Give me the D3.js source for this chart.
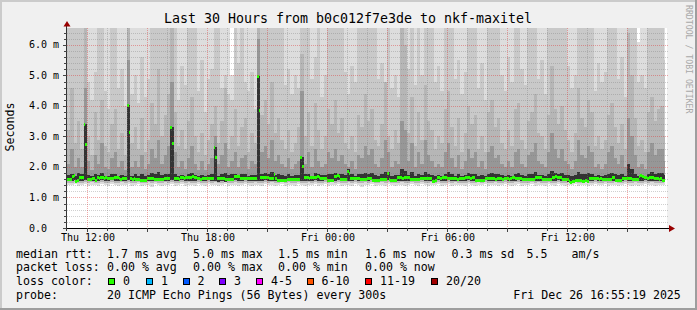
<!DOCTYPE html>
<html>
<head>
<meta charset="utf-8">
<script src="https://cdn.jsdelivr.net/npm/d3@7"></script>
<style>
body { margin: 0; background: #f0f0f0; }
svg { display: block; }
text { font-family: "DejaVu Sans Mono", monospace; fill: #000; }
</style>
</head>
<body>
<svg id="chart" width="697" height="310"></svg>
<script>
// time window (UTC), 5 minute steps for the median, 10 minute columns for the smoke
var startTime = Date.UTC(2025, 11, 25, 11, 0, 0)
var endTime = Date.UTC(2025, 11, 26, 17, 0, 0)
var dataEnd = Date.UTC(2025, 11, 26, 16, 55, 0)
var stepSec = 300
var colSec = 600

// median rtt per 5 min step (ms)
var median = [
 1.61,1.62,1.61,1.72,1.75,1.55,1.58,1.68,1.66,1.67,3.41,2.75,1.61,1.60,1.62,1.64,1.63,1.57,1.66,1.65,
 1.67,1.66,1.64,1.66,1.64,1.63,1.65,1.64,1.68,1.67,1.66,1.63,1.62,1.64,1.63,1.64,4.03,3.16,1.63,1.62,
 1.64,1.61,1.62,1.60,1.57,1.56,1.58,1.57,1.64,1.63,1.65,1.64,1.62,1.61,1.60,1.62,1.61,1.60,1.64,1.63,
 1.65,1.64,3.32,2.80,1.64,1.63,1.64,1.62,1.66,1.67,1.65,1.66,1.67,1.66,1.68,1.69,1.67,1.68,1.63,1.64,
 1.62,1.63,1.64,1.63,1.64,1.65,1.63,1.64,2.65,2.32,1.64,1.65,1.63,1.64,1.64,1.61,1.62,1.61,1.60,1.61,
 1.72,1.71,1.72,1.70,1.64,1.63,1.64,1.64,1.63,1.64,1.65,1.64,1.64,1.63,4.99,3.87,1.68,1.66,1.67,1.68,
 1.66,1.64,1.63,1.64,1.77,1.64,1.58,1.57,1.58,1.56,1.57,1.58,1.61,1.62,1.61,1.60,1.61,1.62,1.61,1.61,
 2.32,2.04,1.66,1.67,1.66,1.65,1.66,1.67,1.68,1.68,1.69,1.67,1.64,1.63,1.64,1.65,1.58,1.57,1.59,1.58,
 1.72,1.71,1.73,1.72,1.61,1.62,1.61,1.60,1.88,1.80,1.64,1.63,1.64,1.65,1.63,1.64,1.61,1.60,1.61,1.62,
 1.64,1.63,1.64,1.58,1.57,1.58,1.56,1.57,1.61,1.60,1.62,1.61,1.80,1.62,1.58,1.57,1.58,1.57,1.66,1.67,
 1.68,1.65,1.66,1.67,1.68,1.66,1.61,1.60,1.61,1.62,1.60,1.61,1.64,1.63,1.64,1.65,1.63,1.64,1.63,1.55,
 1.54,1.56,1.66,1.67,1.65,1.66,1.67,1.66,1.64,1.63,1.65,1.64,1.63,1.64,1.62,1.64,1.63,1.65,1.64,1.66,
 1.67,1.66,1.65,1.66,1.67,1.58,1.57,1.58,1.56,1.57,1.58,1.64,1.63,1.64,1.65,1.63,1.64,1.62,1.63,1.63,
 1.64,1.62,1.63,1.64,1.63,1.62,1.64,1.66,1.67,1.65,1.64,1.63,1.64,1.61,1.60,1.61,1.62,1.61,1.60,1.61,
 1.62,1.66,1.67,1.66,1.67,1.61,1.62,1.60,1.61,1.62,1.61,1.68,1.67,1.69,1.68,1.67,1.68,1.61,1.62,1.60,
 1.61,1.53,1.52,1.54,1.53,1.58,1.57,1.59,1.58,1.55,1.54,1.56,1.55,1.64,1.63,1.64,1.65,1.63,1.64,1.62,
 1.64,1.61,1.60,1.62,1.61,1.60,1.62,1.68,1.67,1.57,1.58,1.57,1.58,1.64,1.63,1.64,1.65,1.63,1.64,1.61,
 1.60,1.62,1.61,1.72,1.73,1.71,1.66,1.67,1.65,1.66,1.67,1.66,1.65,1.63,1.64,1.62,1.63,1.58,1.57,null
]

// smoke: upper edges of the bands per 10 min column (ms), outermost first
var hi0 = [
 6.6,6.6,6.6,6.6,6.6,6.6,6.6,6.6,6.6,6.6,6.6,6.6,6.6,6.6,6.6,6.6,6.6,6.6,6.6,6.6,
 6.6,6.6,6.6,6.6,6.6,6.6,6.6,6.6,6.6,6.6,6.6,6.6,6.6,6.6,6.6,6.6,6.6,6.6,6.6,6.6,
 6.6,6.6,6.6,6.6,6.6,6.6,6.6,6.6,6.6,5.0,6.6,6.6,6.6,6.6,6.6,6.6,6.6,6.6,6.6,6.6,
 6.6,6.6,6.6,6.6,6.6,6.6,6.6,6.6,6.6,6.6,6.6,6.6,6.6,6.6,6.6,6.6,6.6,6.6,6.6,6.6,
 6.6,6.6,6.6,6.6,6.6,6.6,6.6,6.6,6.6,6.6,6.6,6.6,6.6,6.6,6.6,6.6,6.6,6.6,6.6,6.6,
 6.6,6.6,6.6,6.6,6.6,6.6,6.6,6.6,6.6,6.6,6.6,6.6,6.6,6.6,6.6,6.6,6.6,6.6,6.6,6.6,
 6.6,6.6,6.6,6.6,6.6,6.6,6.6,6.6,6.6,6.6,6.6,6.6,6.6,6.6,6.6,6.6,6.6,6.6,6.6,6.6,
 6.6,6.6,6.6,6.6,6.6,6.6,6.6,6.6,6.6,6.6,6.6,6.6,6.6,6.6,6.6,6.6,6.6,6.6,6.6,6.6,
 6.6,6.6,6.6,6.6,6.6,6.6,6.6,6.6,6.6,6.6,6.6,6.1,6.6,6.6,6.6,6.6,6.6,6.6,6.6,6.6
]
var hi1 = [
 6.6,6.6,6.6,6.6,6.6,6.6,4.8,4.2,5.1,6.6,6.6,4.5,3.9,6.6,6.6,4.6,5.2,4.0,6.6,4.4,
 5.0,4.1,5.6,4.3,4.9,6.6,6.6,6.6,6.6,6.6,6.6,6.6,6.6,4.2,5.3,4.7,6.6,6.6,6.6,4.5,
 5.5,3.8,4.9,5.2,6.6,6.6,4.6,5.0,4.4,4.2,6.6,5.4,6.6,4.8,4.5,5.1,3.9,6.6,6.6,6.6,
 6.6,6.6,6.6,6.6,6.6,4.7,5.2,4.4,5.0,4.6,6.6,6.6,6.6,4.9,5.6,6.6,4.3,5.0,6.6,6.6,
 6.6,6.6,6.6,5.1,4.4,5.3,4.8,6.6,6.6,6.6,6.6,6.6,6.6,4.9,5.4,4.5,6.6,4.6,5.0,4.3,
 6.6,6.6,5.2,6.6,4.7,6.6,5.0,6.6,6.6,6.6,4.8,5.3,4.5,6.6,6.6,6.6,4.9,5.5,4.4,5.1,
 6.6,6.6,6.6,4.6,5.4,4.2,6.6,6.6,6.6,6.6,5.0,4.5,5.6,4.8,6.6,6.6,5.2,4.7,6.6,6.6,
 6.6,4.9,5.5,4.4,6.6,6.6,6.6,6.6,6.6,6.6,5.3,4.6,5.0,6.6,6.6,6.6,6.6,6.6,4.5,5.4,
 4.8,5.1,6.6,6.6,6.6,4.9,5.6,4.3,6.6,6.6,6.6,4.8,5.0,4.6,6.6,6.6,6.6,6.6,6.6,5.5
]
var hi2 = [
 3.2,4.6,2.8,3.5,2.6,6.6,3.0,2.4,3.8,2.9,4.2,2.7,2.5,3.4,3.9,2.6,3.1,2.4,6.6,2.8,
 3.3,2.6,3.6,2.5,2.9,4.1,3.4,5.2,3.0,3.7,4.4,6.6,3.8,2.7,3.2,2.6,3.5,4.3,3.0,2.5,
 3.1,2.4,2.9,3.4,4.0,2.8,3.5,4.6,2.6,3.0,3.9,2.7,3.3,3.6,2.5,3.1,2.8,6.6,3.7,4.2,
 3.4,4.8,3.1,3.6,2.9,2.6,3.2,2.5,2.8,3.3,5.7,3.0,3.8,2.7,4.1,3.2,2.6,3.0,3.9,3.4,
 4.2,3.1,3.6,2.8,2.6,3.0,2.5,3.7,3.3,4.4,3.5,3.9,2.9,2.7,3.4,4.8,3.0,2.6,3.2,2.8,
 6.6,6.0,3.1,4.3,2.7,3.8,2.9,4.7,3.5,3.2,2.6,3.0,2.8,3.9,4.5,3.3,2.7,3.6,2.5,3.1,
 4.0,3.4,3.7,2.6,3.0,2.5,3.8,4.2,3.3,3.6,2.8,2.6,3.2,2.7,3.9,4.1,2.9,2.6,3.5,3.8,
 4.4,3.1,3.0,2.6,3.7,5.3,3.9,3.4,4.0,3.2,2.9,2.5,3.1,4.6,3.6,3.3,4.2,3.8,2.7,3.0,
 2.6,2.9,3.7,4.1,3.3,2.8,3.4,2.6,6.4,5.0,3.6,2.7,2.9,2.5,3.8,4.3,3.5,3.9,4.0,3.0
]
var hi3 = [
 2.1,2.6,2.0,2.3,2.0,4.6,2.2,1.9,2.4,2.1,2.8,2.0,1.95,2.3,2.5,2.0,2.2,1.9,5.5,2.0,
 2.2,2.0,2.4,1.95,2.1,2.6,2.3,2.9,2.1,2.4,2.7,4.8,2.5,2.0,2.2,1.95,2.3,2.7,2.1,1.9,
 2.2,1.9,2.1,2.3,3.0,2.1,2.4,2.8,2.0,2.2,2.5,2.0,2.3,2.4,1.95,2.2,2.1,6.2,2.5,2.7,
 2.3,2.9,2.2,2.4,2.1,2.0,2.3,1.95,2.1,2.2,4.5,2.1,2.5,2.0,2.6,2.2,2.0,2.1,2.5,2.3,
 2.6,2.2,2.4,2.1,2.0,2.2,1.95,2.4,2.3,2.7,2.4,2.6,2.1,2.0,2.3,2.9,2.5,2.0,2.2,2.1,
 3.5,3.2,2.2,2.8,2.0,2.5,2.1,2.9,2.4,2.2,2.0,2.1,2.0,2.5,2.8,2.3,2.0,2.4,1.95,2.2,
 2.6,2.3,2.5,2.0,2.2,1.95,2.5,2.7,2.3,2.4,2.1,2.0,2.2,2.0,2.5,2.6,2.1,2.0,2.4,2.5,
 2.8,2.2,2.1,2.0,2.5,3.1,2.6,2.3,2.6,2.2,2.1,1.95,2.2,2.9,2.4,2.3,2.7,2.5,2.0,2.1,
 1.95,2.1,2.5,2.7,2.3,2.1,2.4,2.0,3.6,3.0,2.4,2.0,2.1,1.95,2.5,2.8,2.4,2.6,2.6,2.2
]
var hi4 = [
 1.74,1.77,1.72,1.80,1.76,3.41,1.75,1.71,1.78,1.74,1.79,1.72,1.71,1.76,1.77,1.72,1.75,1.71,4.03,1.72,
 1.76,1.72,1.78,1.71,1.74,1.80,1.76,1.82,1.74,1.77,1.78,3.32,1.76,1.72,1.75,1.71,1.76,1.79,1.74,1.72,
 1.75,1.71,1.74,1.76,2.65,1.72,1.77,1.80,1.74,1.76,1.78,1.72,1.76,1.77,1.71,1.75,1.74,4.99,1.78,1.80,
 1.76,1.82,1.75,1.77,1.74,1.72,1.76,1.71,1.74,1.75,2.32,1.76,1.78,1.72,1.80,1.76,1.73,1.74,1.78,1.76,
 1.80,1.76,1.78,1.74,1.92,1.76,1.71,1.77,1.76,1.80,1.77,1.79,1.74,1.72,1.76,1.84,1.85,1.71,1.75,1.74,
 1.95,1.88,1.75,1.82,1.72,1.78,1.74,1.84,1.77,1.75,1.71,1.74,1.72,1.78,1.82,1.76,1.72,1.77,1.71,1.75,
 1.79,1.76,1.78,1.72,1.75,1.71,1.78,1.80,1.76,1.77,1.74,1.72,1.75,1.72,1.78,1.79,1.74,1.72,1.77,1.78,
 1.82,1.75,1.74,1.72,1.78,1.87,1.79,1.76,1.80,1.75,1.74,1.71,1.75,1.84,1.77,1.76,1.80,1.78,1.72,1.74,
 1.71,1.74,1.78,1.80,1.76,1.74,1.77,1.72,2.10,1.92,1.78,1.72,1.74,1.71,1.78,1.82,1.77,1.79,1.79,1.75
]
// smoke: lower edges (ms)
var lo0 = [
 1.42,1.40,1.43,1.38,1.41,1.44,1.39,1.42,1.40,1.37,1.43,1.41,1.39,1.44,1.40,1.38,1.42,1.41,1.43,1.39,
 1.41,1.44,1.38,1.40,1.42,1.36,1.43,1.41,1.39,1.42,1.40,1.44,1.38,1.41,1.43,1.39,1.42,1.40,1.37,1.43,
 1.41,1.39,1.44,1.40,1.42,1.38,1.41,1.43,1.39,1.40,1.42,1.37,1.41,1.44,1.40,1.38,1.42,1.41,1.39,1.43,
 1.40,1.42,1.38,1.41,1.44,1.39,1.42,1.40,1.37,1.43,1.41,1.39,1.42,1.40,1.44,1.38,1.41,1.43,1.39,1.42,
 1.40,1.43,1.38,1.41,1.42,1.39,1.44,1.40,1.36,1.42,1.41,1.43,1.39,1.40,1.42,1.38,1.43,1.41,1.39,1.40,
 1.42,1.38,1.41,1.44,1.40,1.39,1.43,1.41,1.37,1.42,1.40,1.44,1.39,1.41,1.43,1.38,1.42,1.40,1.41,1.39,
 1.43,1.40,1.38,1.42,1.41,1.44,1.39,1.40,1.42,1.37,1.41,1.43,1.40,1.38,1.42,1.44,1.39,1.41,1.40,1.43,
 1.39,1.42,1.40,1.37,1.43,1.41,1.39,1.44,1.40,1.38,1.42,1.41,1.43,1.39,1.40,1.42,1.38,1.41,1.44,1.40,
 1.41,1.43,1.39,1.40,1.42,1.38,1.41,1.44,1.40,1.39,1.42,1.37,1.41,1.43,1.40,1.42,1.39,1.41,1.40,1.42
]
var lo1 = [
 1.49,1.48,1.50,1.47,1.49,1.51,1.48,1.50,1.49,1.47,1.50,1.49,1.48,1.51,1.49,1.47,1.50,1.49,1.51,1.48,
 1.49,1.51,1.47,1.48,1.50,1.46,1.50,1.49,1.48,1.50,1.49,1.51,1.47,1.49,1.50,1.48,1.50,1.49,1.47,1.50,
 1.49,1.48,1.51,1.49,1.50,1.47,1.49,1.50,1.48,1.49,1.50,1.47,1.49,1.51,1.49,1.47,1.50,1.49,1.48,1.50,
 1.48,1.50,1.47,1.49,1.51,1.48,1.50,1.49,1.47,1.50,1.49,1.48,1.50,1.49,1.51,1.47,1.49,1.50,1.48,1.50,
 1.49,1.50,1.47,1.49,1.50,1.48,1.51,1.49,1.46,1.50,1.49,1.50,1.48,1.49,1.50,1.47,1.50,1.49,1.48,1.49,
 1.50,1.47,1.49,1.51,1.49,1.48,1.50,1.49,1.47,1.50,1.49,1.51,1.48,1.49,1.50,1.47,1.50,1.49,1.49,1.48,
 1.50,1.49,1.47,1.50,1.49,1.51,1.48,1.49,1.50,1.47,1.49,1.50,1.49,1.47,1.50,1.51,1.48,1.49,1.49,1.50,
 1.48,1.50,1.49,1.47,1.50,1.49,1.48,1.51,1.49,1.47,1.50,1.49,1.50,1.48,1.49,1.50,1.47,1.49,1.51,1.49,
 1.49,1.50,1.48,1.49,1.50,1.47,1.49,1.51,1.49,1.48,1.50,1.47,1.49,1.50,1.49,1.50,1.48,1.49,1.49,1.50
]
var lo2 = [
 1.55,1.54,1.56,1.53,1.55,1.56,1.54,1.55,1.55,1.53,1.56,1.55,1.54,1.56,1.55,1.53,1.55,1.55,1.56,1.54,
 1.55,1.56,1.53,1.54,1.55,1.53,1.56,1.55,1.54,1.55,1.55,1.56,1.53,1.55,1.56,1.54,1.55,1.55,1.53,1.56,
 1.55,1.54,1.56,1.55,1.55,1.52,1.53,1.52,1.54,1.55,1.56,1.53,1.55,1.56,1.55,1.53,1.55,1.55,1.54,1.56,
 1.54,1.55,1.53,1.55,1.56,1.54,1.55,1.55,1.53,1.56,1.55,1.54,1.55,1.55,1.56,1.53,1.55,1.56,1.54,1.55,
 1.55,1.56,1.53,1.55,1.55,1.54,1.56,1.55,1.53,1.55,1.55,1.56,1.54,1.55,1.55,1.53,1.56,1.55,1.54,1.55,
 1.55,1.53,1.55,1.56,1.55,1.54,1.56,1.55,1.53,1.55,1.55,1.56,1.54,1.55,1.56,1.53,1.55,1.55,1.55,1.54,
 1.56,1.55,1.53,1.55,1.55,1.56,1.54,1.55,1.55,1.53,1.55,1.56,1.55,1.53,1.55,1.56,1.54,1.55,1.55,1.56,
 1.54,1.55,1.55,1.53,1.56,1.55,1.54,1.56,1.55,1.53,1.50,1.50,1.51,1.54,1.55,1.55,1.53,1.55,1.56,1.55,
 1.55,1.56,1.54,1.55,1.55,1.53,1.55,1.56,1.55,1.54,1.55,1.53,1.55,1.56,1.55,1.55,1.54,1.55,1.55,1.55
]
var smokeColors = ["#dddddd", "#c9c9c9", "#b6b6b6", "#979797", "#333333"]

// axis ticks
var yTickValues = [0, 1, 2, 3, 4, 5, 6]
var yTickLabels = ["0.0", "1.0 m", "2.0 m", "3.0 m", "4.0 m", "5.0 m", "6.0 m"]
var yMinorStep = 0.2
var yMax = 6.557

// legend rows: [x, text]
var legendRows = [
    [[16, "median rtt:"], [107, "1.7 ms avg"], [193, "5.0 ms max"], [278, "1.5 ms min"], [365, "1.6 ms now"], [451.5, "0.3 ms sd"], [526.5, "5.5"], [571.5, "am/s"]],
    [[16, "packet loss:"], [107, "0.00 % avg"], [193, "0.00 % max"], [278, "0.00 % min"], [365, "0.00 % now"]],
    [[16, "loss color:"]],
    [[16, "probe:"], [107, "20 ICMP Echo Pings (56 Bytes) every 300s"], [513.3, "Fri Dec 26 16:55:19 2025"]]
]
var lossLabels = ["0", "1", "2", "3", "4-5", "6-10", "11-19", "20/20"]
var lossColors = ["#26ff00", "#00b8ff", "#0059ff", "#7e00ff", "#ff00ff", "#ff5500", "#ff0000", "#a10000"]
var lossBoxX = [108, 146, 182.5, 219, 256, 306.5, 365, 431]

var title = "Last 30 Hours from b0c012f7e3de to nkf-maxitel"

// ---- drawing ----
var svg = d3.select("#chart")
var W = 697, H = 310
var plotL = 67, plotR = 667, plotT = 28, plotB = 228

var x = d3.scaleUtc().domain([new Date(startTime), new Date(endTime)]).range([plotL, plotR])
var y = d3.scaleLinear().domain([0, yMax]).range([plotB, plotT])

// background and 3D frame
svg.append("rect").attr("width", W).attr("height", H).attr("fill", "#f0f0f0")
svg.append("path").attr("d", "M0,0H697V2H0Z M0,0H2V310H0Z").attr("fill", "#cbcbcb")
svg.append("path").attr("d", "M0,308H697V310H0Z M695,0H697V310H695Z").attr("fill", "#9e9e9e")

// canvas
svg.append("rect").attr("x", plotL).attr("y", plotT).attr("width", plotR - plotL).attr("height", plotB - plotT).attr("fill", "#ffffff")

svg.append("clipPath").attr("id", "plotclip")
    .append("rect").attr("x", plotL).attr("y", plotT).attr("width", plotR - plotL).attr("height", plotB - plotT)

var plot = svg.append("g").attr("clip-path", "url(#plotclip)").attr("shape-rendering", "crispEdges")

function colX0(c) { return Math.round(x(new Date(startTime + c * colSec * 1000))) }
function colX1(c) { return Math.round(x(new Date(Math.min(startTime + (c + 1) * colSec * 1000, dataEnd)))) }

// smoke bands, outer (light) first
var bands = [
    {hi: hi0, lo: lo0, color: smokeColors[0]},
    {hi: hi1, lo: lo1, color: smokeColors[1]},
    {hi: hi2, lo: lo1, color: smokeColors[2]},
    {hi: hi3, lo: lo2, color: smokeColors[3]},
    {hi: hi4, lo: lo2, color: smokeColors[4]}
]
bands.forEach(function(b) {
    plot.append("g").selectAll("rect")
        .data(d3.range(b.hi.length))
        .enter().append("rect")
        .attr("x", function(c) { return colX0(c) })
        .attr("width", function(c) { return colX1(c) - colX0(c) })
        .attr("y", function(c) { return Math.round(y(b.hi[c])) })
        .attr("height", function(c) { return Math.round(y(b.lo[c])) - Math.round(y(b.hi[c])) })
        .attr("fill", b.color)
})

// grid (semi transparent, drawn over the smoke)
var minorColor = "rgba(120,120,120,0.35)"
var majorColor = "rgba(225,50,50,0.42)"
var grid = svg.append("g").attr("shape-rendering", "crispEdges")
var yMinor = d3.range(0, yMax, yMinorStep).filter(function(v) { return Math.abs(v - Math.round(v)) > 0.01 })
grid.selectAll(".ymin").data(yMinor).enter().append("line")
    .attr("x1", plotL).attr("x2", plotR + 1)
    .attr("y1", function(d) { return Math.round(y(d)) + 0.5 }).attr("y2", function(d) { return Math.round(y(d)) + 0.5 })
    .attr("stroke", minorColor).attr("stroke-dasharray", "1,1")
var hours = d3.utcHour.range(new Date(startTime + 1), new Date(endTime))
grid.selectAll(".xmin").data(hours.filter(function(d) { return d.getUTCHours() % 3 != 0 })).enter().append("line")
    .attr("x1", function(d) { return Math.round(x(d)) + 0.5 }).attr("x2", function(d) { return Math.round(x(d)) + 0.5 })
    .attr("y1", plotT).attr("y2", plotB)
    .attr("stroke", minorColor).attr("stroke-dasharray", "1,1")
grid.selectAll(".ymaj").data(yTickValues.slice(1)).enter().append("line")
    .attr("x1", plotL).attr("x2", plotR + 1)
    .attr("y1", function(d) { return Math.round(y(d)) + 0.5 }).attr("y2", function(d) { return Math.round(y(d)) + 0.5 })
    .attr("stroke", majorColor).attr("stroke-dasharray", "1,1")
grid.selectAll(".xmaj").data(hours.filter(function(d) { return d.getUTCHours() % 3 == 0 })).enter().append("line")
    .attr("x1", function(d) { return Math.round(x(d)) + 0.5 }).attr("x2", function(d) { return Math.round(x(d)) + 0.5 })
    .attr("y1", plotT).attr("y2", plotB)
    .attr("stroke", majorColor).attr("stroke-dasharray", "1,1")

// median boxes
var medianData = median.map(function(v, i) { return {v: v, i: i} }).filter(function(d) { return d.v != null })
function stepX(i) { return Math.round(x(new Date(startTime + i * stepSec * 1000))) }
plot.append("g").selectAll("rect").data(medianData).enter().append("rect")
    .attr("x", function(d) { return stepX(d.i) })
    .attr("width", function(d) { return stepX(d.i + 1) - stepX(d.i) })
    .attr("y", function(d) { return Math.round(y(d.v)) - 1 })
    .attr("height", 3)
    .attr("fill", lossColors[0])

// axes
var axes = svg.append("g").attr("shape-rendering", "crispEdges")
axes.append("line").attr("x1", plotL - 0.5).attr("x2", plotL - 0.5).attr("y1", plotB + 3).attr("y2", 24).attr("stroke", "#333")
axes.append("line").attr("x1", plotL - 3).attr("x2", 670).attr("y1", plotB + 0.5).attr("y2", plotB + 0.5).attr("stroke", "#000")
// y ticks
axes.selectAll(".yt").data(d3.range(0, yMax, yMinorStep)).enter().append("line")
    .attr("x1", function(d) { return Math.abs(d - Math.round(d)) < 0.01 ? plotL - 4 : plotL - 3 }).attr("x2", plotL)
    .attr("y1", function(d) { return Math.round(y(d)) + 0.5 }).attr("y2", function(d) { return Math.round(y(d)) + 0.5 })
    .attr("stroke", "#444")
// x ticks
axes.selectAll(".xt").data(hours).enter().append("line")
    .attr("x1", function(d) { return Math.round(x(d)) + 0.5 }).attr("x2", function(d) { return Math.round(x(d)) + 0.5 })
    .attr("y1", plotB).attr("y2", function(d) { return d.getUTCHours() % 3 == 0 ? plotB + 4 : plotB + 3 })
    .attr("stroke", "#444")

// arrows
svg.append("path").attr("d", "M63.5,26.5L70.5,26.5L67,21Z").attr("fill", "#990000")
svg.append("path").attr("d", "M669,225L669,232L675,228.5Z").attr("fill", "#990000")

// y labels
svg.selectAll(".ylab").data(yTickValues).enter().append("text")
    .attr("x", 29).attr("y", function(d) { return y(d) + 3.5 })
    .attr("font-size", "10px")
    .text(function(d, i) { return yTickLabels[i] })

// x labels
var xLabelTimes = hours.filter(function(d) { return d.getUTCHours() % 6 == 0 })
var fmt = d3.utcFormat("%a %H:%M")
svg.selectAll(".xlab").data(xLabelTimes).enter().append("text")
    .attr("x", function(d) { return x(d) + 1 }).attr("y", 240.5)
    .attr("text-anchor", "middle").attr("font-size", "10px")
    .text(function(d) { return fmt(d) })

// title
svg.append("text").attr("x", 348).attr("y", 23).attr("text-anchor", "middle")
    .attr("font-size", "13.3px").text(title)

// vertical axis title
svg.append("text").attr("transform", "translate(14,127) rotate(-90)")
    .attr("text-anchor", "middle").attr("font-size", "11.6px").text("Seconds")

// watermark
svg.append("text").attr("transform", "translate(685.5,5) rotate(90)")
    .attr("font-size", "8.2px").style("fill", "#a8a8a8").text("RRDTOOL / TOBI OETIKER")

// legend
var rowY = [257.6, 271.4, 285.2, 298.8]
legendRows.forEach(function(row, r) {
    row.forEach(function(item) {
        svg.append("text").attr("x", item[0]).attr("y", rowY[r])
            .attr("font-size", "11.6px").attr("xml:space", "preserve").text(item[1])
    })
})
lossLabels.forEach(function(lab, i) {
    svg.append("rect").attr("x", lossBoxX[i] + 0.5).attr("y", 278.5).attr("width", 6).attr("height", 6)
        .attr("fill", lossColors[i]).attr("stroke", "#000").attr("shape-rendering", "crispEdges")
    svg.append("text").attr("x", lossBoxX[i] + 15).attr("y", rowY[2])
        .attr("font-size", "11.6px").text(lab)
})
</script>
</body>
</html>
